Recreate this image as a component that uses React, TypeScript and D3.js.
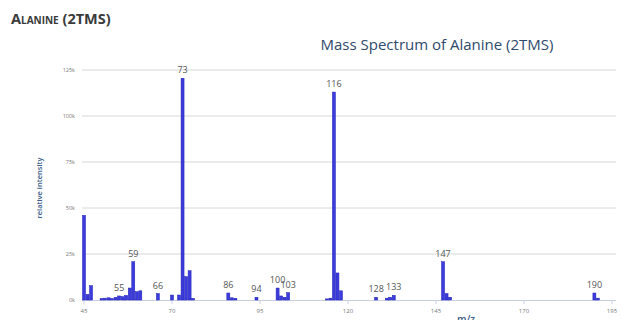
import { useEffect, useRef } from "react";
import * as d3 from "d3";

// peaks (m/z, relative intensity)
const mzValues = [45, 46, 47, 50, 51, 52, 53, 54, 55, 56, 57, 58, 59, 60, 61, 66, 70, 72, 73, 74, 75, 76, 86, 87, 88, 94, 100, 101, 102, 103, 114, 115, 116, 117, 118, 128, 131, 132, 133, 147, 148, 149, 190, 191];
const intensities = [46000, 3000, 7800, 800, 1000, 1200, 800, 1500, 2200, 1800, 2500, 6500, 20800, 4500, 5000, 3500, 2700, 2700, 120500, 12700, 15900, 900, 3800, 1200, 900, 1500, 6500, 2200, 1500, 4000, 600, 1000, 113000, 14700, 5000, 1500, 1000, 1500, 2500, 20800, 3500, 1500, 3800, 1000];
const labelledPeaks = [55, 59, 66, 73, 86, 94, 100, 103, 116, 128, 133, 147, 190];
const yTicks = [0, 25000, 50000, 75000, 100000, 125000];
const xTicks = [45, 70, 95, 120, 145, 170, 195];

export default function App() {
  const svgRef = useRef<SVGSVGElement>(null);

  useEffect(() => {
    const svg = d3.select(svgRef.current);
    svg.selectAll("*").remove();

    const left = 84;
    const right = 612;
    const top = 70;
    const bottom = 300;

    const x = d3.scaleLinear().domain([45, 195]).range([left, right]);
    const y = d3.scaleLinear().domain([0, 125000]).range([bottom, top]);

    // page title
    svg.append("text")
      .attr("x", 11)
      .attr("y", 24)
      .attr("font-family", "Open Sans, sans-serif")
      .attr("font-size", 14.5)
      .attr("font-weight", 700)
      .attr("fill", "#3a3a3a")
      .style("font-variant", "small-caps")
      .text("Alanine (2TMS)");

    // chart title
    svg.append("text")
      .attr("x", 437)
      .attr("y", 50)
      .attr("text-anchor", "middle")
      .attr("font-family", "Open Sans, sans-serif")
      .attr("font-size", 15)
      .attr("fill", "#2f4a6d")
      .text("Mass Spectrum of Alanine (2TMS)");

    // grid + y labels
    yTicks.forEach((t) => {
      if (t > 0) {
        svg.append("line")
          .attr("x1", left - 2)
          .attr("x2", 616)
          .attr("y1", y(t))
          .attr("y2", y(t))
          .attr("stroke", "#d8d8d8")
          .attr("stroke-width", 1);
      }
      svg.append("text")
        .attr("x", 75)
        .attr("y", y(t) + 2)
        .attr("text-anchor", "end")
        .attr("font-family", "Open Sans, sans-serif")
        .attr("font-size", 5.5)
        .attr("fill", "#777")
        .text(t / 1000 + "k");
    });

    // y axis title
    svg.append("text")
      .attr("transform", "translate(42,188) rotate(-90)")
      .attr("text-anchor", "middle")
      .attr("font-family", "Open Sans, sans-serif")
      .attr("font-size", 7.5)
      .attr("font-weight", 600)
      .attr("fill", "#3b5f8a")
      .text("relative intensity");

    // x axis line + ticks
    svg.append("line")
      .attr("x1", left - 2)
      .attr("x2", 616)
      .attr("y1", bottom + 0.5)
      .attr("y2", bottom + 0.5)
      .attr("stroke", "#c8d0e0");

    xTicks.forEach((t) => {
      svg.append("line")
        .attr("x1", x(t))
        .attr("x2", x(t))
        .attr("y1", bottom)
        .attr("y2", bottom + 4)
        .attr("stroke", "#c8d0e0");
      svg.append("text")
        .attr("x", x(t))
        .attr("y", 313)
        .attr("text-anchor", "middle")
        .attr("font-family", "Open Sans, sans-serif")
        .attr("font-size", 6)
        .attr("fill", "#777")
        .text(t);
    });

    svg.append("text")
      .attr("x", 466)
      .attr("y", 323)
      .attr("text-anchor", "middle")
      .attr("font-family", "Open Sans, sans-serif")
      .attr("font-size", 10)
      .attr("font-weight", 600)
      .attr("fill", "#3b5f8a")
      .text("m/z");

    // bars
    const bw = 3;
    svg.append("g")
      .selectAll("rect")
      .data(mzValues)
      .enter()
      .append("rect")
      .attr("x", (d) => x(d) - bw / 2)
      .attr("y", (_, i) => y(intensities[i]))
      .attr("width", bw)
      .attr("height", (_, i) => bottom - y(intensities[i]))
      .attr("fill", "#3c3cdc")
      .attr("stroke", "#2020b8")
      .attr("stroke-width", 0.5);

    // peak labels
    labelledPeaks.forEach((m) => {
      const v = intensities[mzValues.indexOf(m)];
      svg.append("text")
        .attr("x", x(m))
        .attr("y", y(v) - 5)
        .attr("text-anchor", "middle")
        .attr("font-family", "Open Sans, sans-serif")
        .attr("font-size", 9)
        .attr("fill", "#555")
        .text(m);
    });
  }, []);

  return (
    <div style={{ position: "fixed", left: 0, top: 0, background: "#fff" }}>
      <svg ref={svgRef} width={622} height={320} style={{ display: "block" }}></svg>
    </div>
  );
}
